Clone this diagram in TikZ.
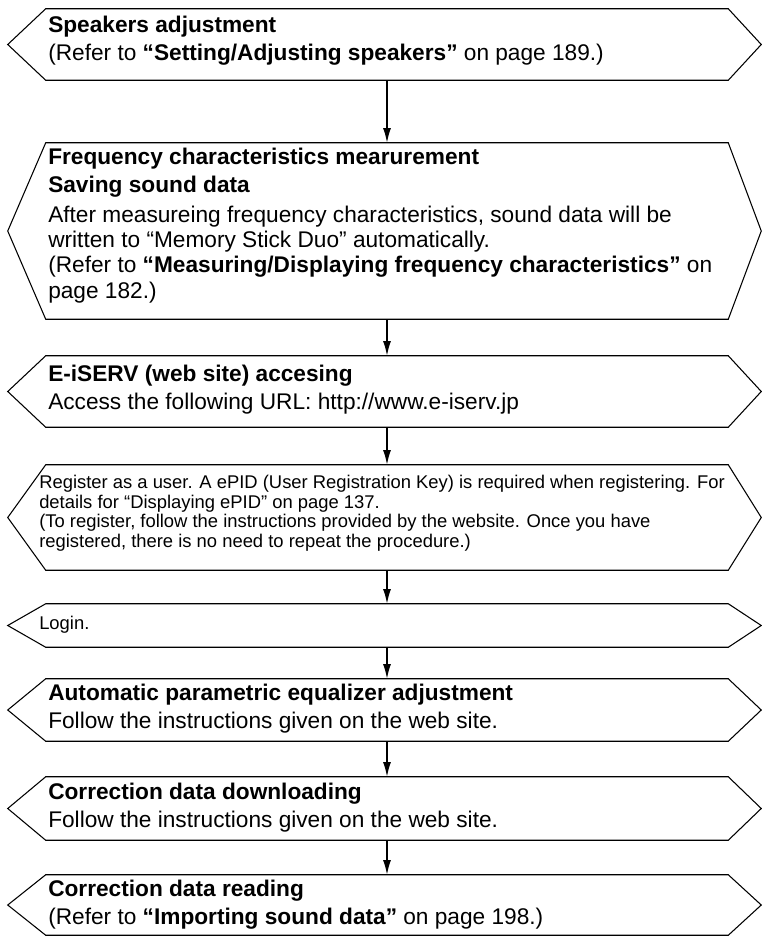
\documentclass[tikz,border=0pt]{standalone}
\usepackage{fontspec}
\setmainfont{Liberation Sans}
\usepackage{tikz}
\usetikzlibrary{positioning,arrows.meta,calc}

\begin{document}
\begin{tikzpicture}[
  x=0.75pt, y=-0.75pt,
  area/.style={rectangle, inner sep=0pt, minimum width=511.5pt},
  frame/.style={draw=black, line width=0.8pt, line join=miter},
  bigtxt/.style={anchor=base west, inner sep=0pt, align=left, font=\fontsize{17}{19}\selectfont},
  smalltxt/.style={anchor=base west, inner sep=0pt, align=left, font=\fontsize{13.8}{14.6}\selectfont},
  flow/.style={draw=black, line width=1.1pt, -{Latex[length=11pt,width=6pt]}}
]
\useasboundingbox (0,0) rectangle (761,936);

\node[area, minimum height=53.25pt] (s1) at (387,44.5) {};
\node[area, minimum height=132pt] (s2) at (387,231) {};
\node[area, minimum height=53.25pt] (s3) at (387,391.5) {};
\node[area, minimum height=78.75pt] (s4) at (387,517.5) {};
\node[area, minimum height=32.25pt] (s5) at (387,625.5) {};
\node[area, minimum height=46.5pt] (s6) at (387,710) {};
\node[area, minimum height=47.25pt] (s7) at (387,808.5) {};
\node[area, minimum height=45pt] (s8) at (387,905) {};

\foreach \b in {s1,s2,s3,s4,s5,s6,s7,s8}
  \draw[frame] (\b.north west) -- (\b.north east) -- ($(\b.east)+(33,0)$)
    -- (\b.south east) -- (\b.south west) -- ($(\b.west)+(-38,0)$) -- cycle;

\node[bigtxt] (t1) at (48,60) {\textbf{Speakers adjustment}\\[2pt]
  (Refer to \textbf{“Setting/Adjusting speakers”} on page 189.)};
\node[bigtxt] (t2) at (48,298) {\textbf{Frequency characteristics mearurement}\\[1.3pt]
  \textbf{Saving sound data}\\[3.5pt]
  After measureing frequency characteristics, sound data will be\\
  written to “Memory Stick Duo” automatically.\\
  (Refer to \textbf{“Measuring/Displaying frequency characteristics”} on\\
  page 182.)};
\node[bigtxt] (t3) at (48,409) {\textbf{E-iSERV (web site) accesing}\\[2pt]
  Access the following URL: http://www.e-iserv.jp};
\node[smalltxt] (t4) at (39,547) {Register as a user. A ePID (User Registration Key) is required when registering. For\\
  details for “Displaying ePID” on page 137.\\
  (To register, follow the instructions provided by the website. Once you have\\
  registered, there is no need to repeat the procedure.)};
\node[smalltxt] (t5) at (39,629) {Login.};
\node[bigtxt] (t6) at (48,728) {\textbf{Automatic parametric equalizer adjustment}\\[2pt]
  Follow the instructions given on the web site.};
\node[bigtxt] (t7) at (48,827) {\textbf{Correction data downloading}\\[2pt]
  Follow the instructions given on the web site.};
\node[bigtxt] (t8) at (48,924) {\textbf{Correction data reading}\\[2pt]
  (Refer to \textbf{“Importing sound data”} on page 198.)};

\draw[flow] (s1.south) -- (s2.north);
\draw[flow] (s2.south) -- (s3.north);
\draw[flow] (s3.south) -- (s4.north);
\draw[flow] (s4.south) -- (s5.north);
\draw[flow] (s5.south) -- (s6.north);
\draw[flow] (s6.south) -- (s7.north);
\draw[flow] (s7.south) -- (s8.north);

\end{tikzpicture}
\end{document}
